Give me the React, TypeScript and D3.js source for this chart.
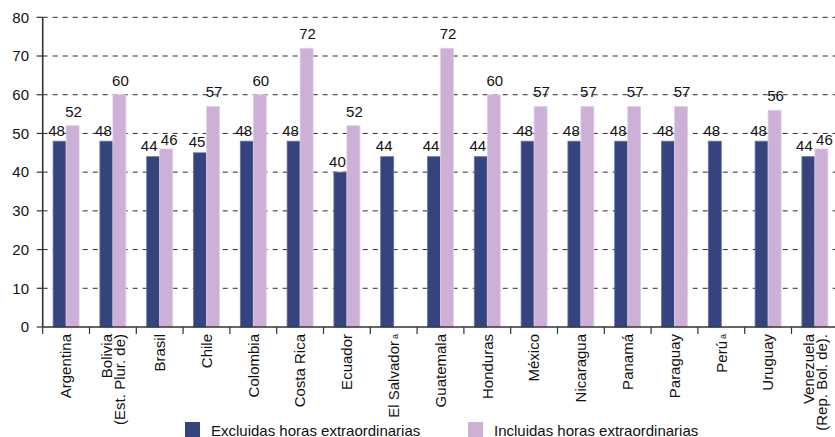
import React from "react";
import * as d3 from "d3";

const categories: string[][] = [
  ["Argentina"],
  ["Bolivia", "(Est. Plur. de)"],
  ["Brasil"],
  ["Chile"],
  ["Colombia"],
  ["Costa Rica"],
  ["Ecuador"],
  ["El Salvador"],
  ["Guatemala"],
  ["Honduras"],
  ["México"],
  ["Nicaragua"],
  ["Panamá"],
  ["Paraguay"],
  ["Perú"],
  ["Uruguay"],
  ["Venezuela", "(Rep. Bol. de)."],
];
const superscriptA = [false, false, false, false, false, false, false, true, false, false, false, false, false, false, true, false, false];
const excluidas: (number | null)[] = [48, 48, 44, 45, 48, 48, 40, 44, 44, 44, 48, 48, 48, 48, 48, 48, 44];
const incluidas: (number | null)[] = [52, 60, 46, 57, 60, 72, 52, null, 72, 60, 57, 57, 57, 57, null, 56, 46];
const seriesNames = ["Excluidas horas extraordinarias", "Incluidas horas extraordinarias"];
const yTicks = [0, 10, 20, 30, 40, 50, 60, 70, 80];

const W = 835;
const H = 437;
const COLORS = ["#35437f", "#ccb0d6"];
const EDGES = ["#6a75a5", "#e2d0e8"];
const FONT = "'Liberation Sans', Arial, sans-serif";

export default function App() {
  const x0 = d3
    .scaleBand<number>()
    .domain(d3.range(categories.length))
    .range([42.7, 42.7 + 46.8 * categories.length])
    .paddingInner(0)
    .paddingOuter(0);
  const x1 = d3.scaleBand<number>().domain([0, 1]).range([0, x0.bandwidth()]).paddingInner(0).paddingOuter(0.8);
  const y = d3.scaleLinear().domain([0, 80]).range([327, 17.3]);
  const series = [excluidas, incluidas];
  const axisX = x0.range()[0];

  const labels: { key: string; x: number; y: number; v: number }[] = [];
  categories.forEach((_, i) => {
    const d = excluidas[i];
    const p = incluidas[i];
    const cd = (x0(i) as number) + (x1(0) as number) + x1.bandwidth() / 2;
    const cp = (x0(i) as number) + (x1(1) as number) + x1.bandwidth() / 2;
    const dy = d != null ? y(d) - 5.5 : 0;
    let dx = cd - 3;
    if (p != null) {
      let py = y(p) - 9;
      let px = cp + 1;
      if (d != null && Math.abs(py - dy) < 14) {
        py = dy - 6;
        px = cp + 3;
        dx = cd - 4;
      }
      labels.push({ key: "p" + i, x: px, y: py, v: p });
    }
    if (d != null) labels.push({ key: "d" + i, x: dx, y: dy, v: d });
  });

  return (
    <svg width={W} height={H} style={{ position: "absolute", left: 0, top: 0, background: "#fff" }} fontFamily={FONT}>
      {yTicks.filter((t) => t > 0).map((t) => (
        <line key={"g" + t} x1={axisX} x2={W} y1={y(t)} y2={y(t)} stroke="#2a2a2a" strokeWidth={1} strokeDasharray="5,5" />
      ))}
      {series.map((vals, si) =>
        vals.map((v, i) =>
          v == null ? null : (
            <rect
              key={`b${si}-${i}`}
              x={(x0(i) as number) + (x1(si) as number)}
              y={y(v)}
              width={x1.bandwidth()}
              height={y(0) - y(v)}
              fill={COLORS[si]}
              stroke={EDGES[si]}
              strokeWidth={0.8}
            />
          )
        )
      )}
      {labels.map((l) => (
        <text key={l.key} x={l.x} y={l.y} textAnchor="middle" fontSize={15} fill="#111">
          {l.v}
        </text>
      ))}
      <line x1={axisX} x2={axisX} y1={y(80)} y2={y(0)} stroke="#333" strokeWidth={1.6} />
      {yTicks.map((t) => (
        <g key={"yt" + t}>
          <line x1={axisX - 6} x2={axisX} y1={y(t)} y2={y(t)} stroke="#333" strokeWidth={1.2} />
          <text x={29} y={y(t)} dy="0.35em" textAnchor="end" fontSize={15} fill="#111">
            {t}
          </text>
        </g>
      ))}
      <line x1={axisX} x2={W} y1={y(0)} y2={y(0)} stroke="#333" strokeWidth={1.6} />
      {d3.range(categories.length + 1).map((i) => {
        const xx = axisX + i * x0.step();
        return <line key={"xt" + i} x1={xx} x2={xx} y1={y(0)} y2={y(0) + 7} stroke="#333" strokeWidth={1.2} />;
      })}
      {categories.map((lines, i) => {
        const cx = (x0(i) as number) + x0.bandwidth() / 2;
        const n = lines.length;
        return (
          <text
            key={"c" + i}
            transform={`translate(${cx},${y(0) + 7}) rotate(-90)`}
            textAnchor="end"
            fontSize={15}
            fill="#111"
          >
            {lines.map((ln, li) => {
              const off = (li - (n - 1) / 2) * 13;
              const hasSup = superscriptA[i] && li === n - 1;
              return (
                <tspan key={li} x={0} y={off} dy="0.35em">
                  {ln}
                  {hasSup ? (
                    <tspan fontSize={9} dx={2} dy={-1}>
                      a
                    </tspan>
                  ) : null}
                </tspan>
              );
            })}
          </text>
        );
      })}
      <rect x={185} y={422} width={15} height={15} fill={COLORS[0]} />
      <text x={211} y={435.5} fontSize={15} fill="#111">
        {seriesNames[0]}
      </text>
      <rect x={468} y={422} width={15} height={15} fill={COLORS[1]} />
      <text x={494} y={435.5} fontSize={15} fill="#111">
        {seriesNames[1]}
      </text>
    </svg>
  );
}
